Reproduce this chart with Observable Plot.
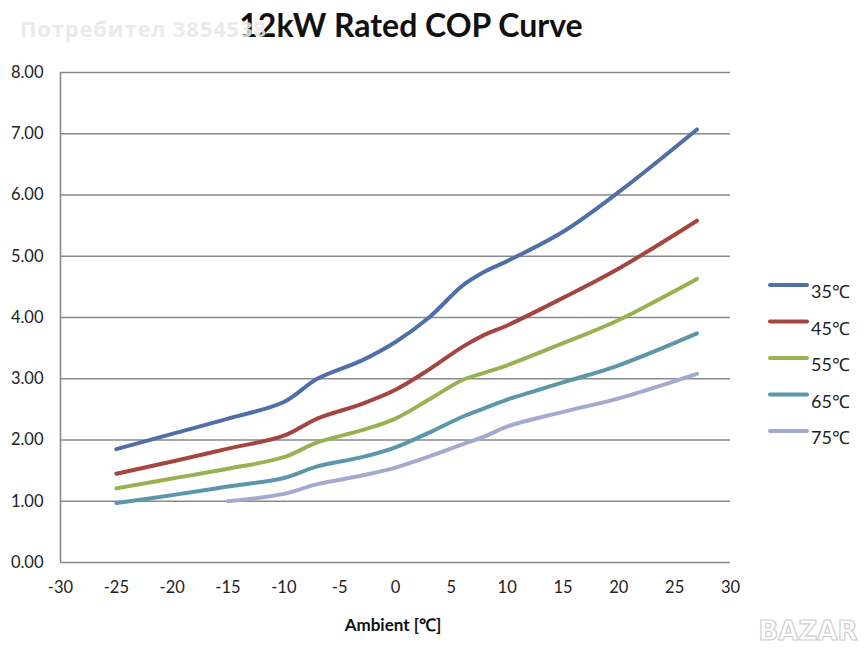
<!DOCTYPE html>
<html>
<head>
<meta charset="utf-8">
<script src="https://cdn.jsdelivr.net/npm/d3@7"></script>
<script src="https://cdn.jsdelivr.net/npm/@observablehq/plot@0.6"></script>
<style>
  html, body { margin: 0; padding: 0; background: #fff; }
  #chart { width: 866px; height: 654px; }
</style>
</head>
<body>
<div id="chart"></div>
<script>
// ---- data ----
const title = "12kW Rated COP Curve";
const xLabel = "Ambient [\u2103]";
const ambient = [-25, -20, -15, -10, -7, -3, 0, 3, 6, 8, 10, 15, 20, 27];
const series = ["35\u2103", "45\u2103", "55\u2103", "65\u2103", "75\u2103"];
const cop35 = [1.85, 2.10, 2.35, 2.62, 3.00, 3.30, 3.60, 4.00, 4.52, 4.75, 4.92, 5.40, 6.05, 7.07];
const cop45 = [1.45, 1.65, 1.86, 2.07, 2.35, 2.59, 2.82, 3.15, 3.52, 3.72, 3.87, 4.32, 4.80, 5.58];
const cop55 = [1.21, 1.37, 1.53, 1.72, 1.96, 2.16, 2.35, 2.66, 2.98, 3.10, 3.22, 3.58, 3.96, 4.63];
const cop65 = [0.97, 1.10, 1.24, 1.38, 1.57, 1.72, 1.88, 2.12, 2.38, 2.52, 2.66, 2.94, 3.22, 3.74];
const cop75 = [null, null, 1.00, 1.12, 1.28, 1.42, 1.55, 1.73, 1.93, 2.06, 2.22, 2.46, 2.68, 3.08];
const xTicks = [-30, -25, -20, -15, -10, -5, 0, 5, 10, 15, 20, 25, 30];
const yTicks = [0, 1, 2, 3, 4, 5, 6, 7, 8];
const colors = ["#4f6fa9", "#a4463f", "#98b152", "#5b96aa", "#a2aad0"];

const allSeries = [cop35, cop45, cop55, cop65, cop75];
const rows = [];
allSeries.forEach((vals, i) => {
  vals.forEach((v, j) => {
    if (v != null) rows.push({ series: series[i], x: ambient[j], y: v });
  });
});

const W = 866, H = 654;
const mL = 60, mR = 136, mT = 72, mB = 92;
const fmtY = d3.format(".2f");
const fmtX = d => String(d);

const plot = Plot.plot({
  width: W,
  height: H,
  marginLeft: mL,
  marginRight: mR,
  marginTop: mT,
  marginBottom: mB,
  style: { fontFamily: "Lato, 'Open Sans', sans-serif", fontSize: "16px", color: "#222", background: "#fff" },
  x: { domain: [-30, 30], label: null },
  y: { domain: [0, 8], label: null },
  color: { domain: series, range: colors },
  marks: [
    Plot.gridY(yTicks.filter(d => d > 0), { stroke: "#8a8a8a", strokeOpacity: 1, strokeWidth: 1.6 }),
    Plot.ruleX([-30], { stroke: "#8a8a8a", strokeWidth: 1.6 }),
    Plot.ruleY([0], { stroke: "#8a8a8a", strokeWidth: 1.6 }),
    Plot.axisX({ ticks: xTicks, tickSize: 0, tickPadding: 19, fontSize: 16.5, fill: "#222", tickFormat: fmtX, label: null }),
    Plot.axisY({ ticks: yTicks, tickSize: 0, tickPadding: 17, fontSize: 16.5, fill: "#222", tickFormat: fmtY, label: null }),
    Plot.line(rows, {
      x: "x", y: "y", z: "series", stroke: "series",
      curve: "catmull-rom", strokeWidth: 4, strokeLinecap: "round", strokeLinejoin: "round"
    })
  ]
});

document.getElementById("chart").appendChild(plot);

// ---- title, axis label, legend, watermarks ----
const svg = d3.select(plot);
svg.append("text")
  .attr("x", 411).attr("y", 37)
  .attr("text-anchor", "middle")
  .attr("font-family", "Lato, sans-serif")
  .attr("font-weight", "bold")
  .attr("font-size", 32)
  .attr("fill", "#111")
  .text(title);

svg.append("text")
  .attr("x", 393).attr("y", 631)
  .attr("text-anchor", "middle")
  .attr("font-family", "Lato, sans-serif")
  .attr("font-weight", "bold")
  .attr("font-size", 17)
  .attr("fill", "#111")
  .text(xLabel);

const lg = svg.append("g");
series.forEach((s, i) => {
  const y = 285 + i * 36.5;
  lg.append("line")
    .attr("x1", 770).attr("x2", 807).attr("y1", y).attr("y2", y)
    .attr("stroke", colors[i]).attr("stroke-width", 4).attr("stroke-linecap", "round");
  lg.append("text")
    .attr("x", 811).attr("y", y + 13)
    .attr("text-anchor", "start")
    .attr("font-family", "Lato, sans-serif")
    .attr("font-size", 18)
    .attr("fill", "#222")
    .text(s);
});

svg.append("text")
  .attr("x", 20).attr("y", 37)
  .attr("text-anchor", "start")
  .attr("font-family", "'Open Sans', sans-serif")
  .attr("font-weight", "bold")
  .attr("font-size", 22)
  .attr("textLength", 246)
  .attr("fill", "#e8e8e8")
  .attr("fill-opacity", 0.9)
  .text("Потребител 3854538");

svg.append("text")
  .attr("x", 808).attr("y", 640)
  .attr("text-anchor", "middle")
  .attr("font-family", "'DejaVu Sans', sans-serif")
  .attr("font-weight", "bold")
  .attr("font-size", 26)
  .attr("fill", "#fff")
  .attr("stroke", "#cfcfcf")
  .attr("stroke-width", 1.2)
  .text("BAZAR");
</script>
</body>
</html>
